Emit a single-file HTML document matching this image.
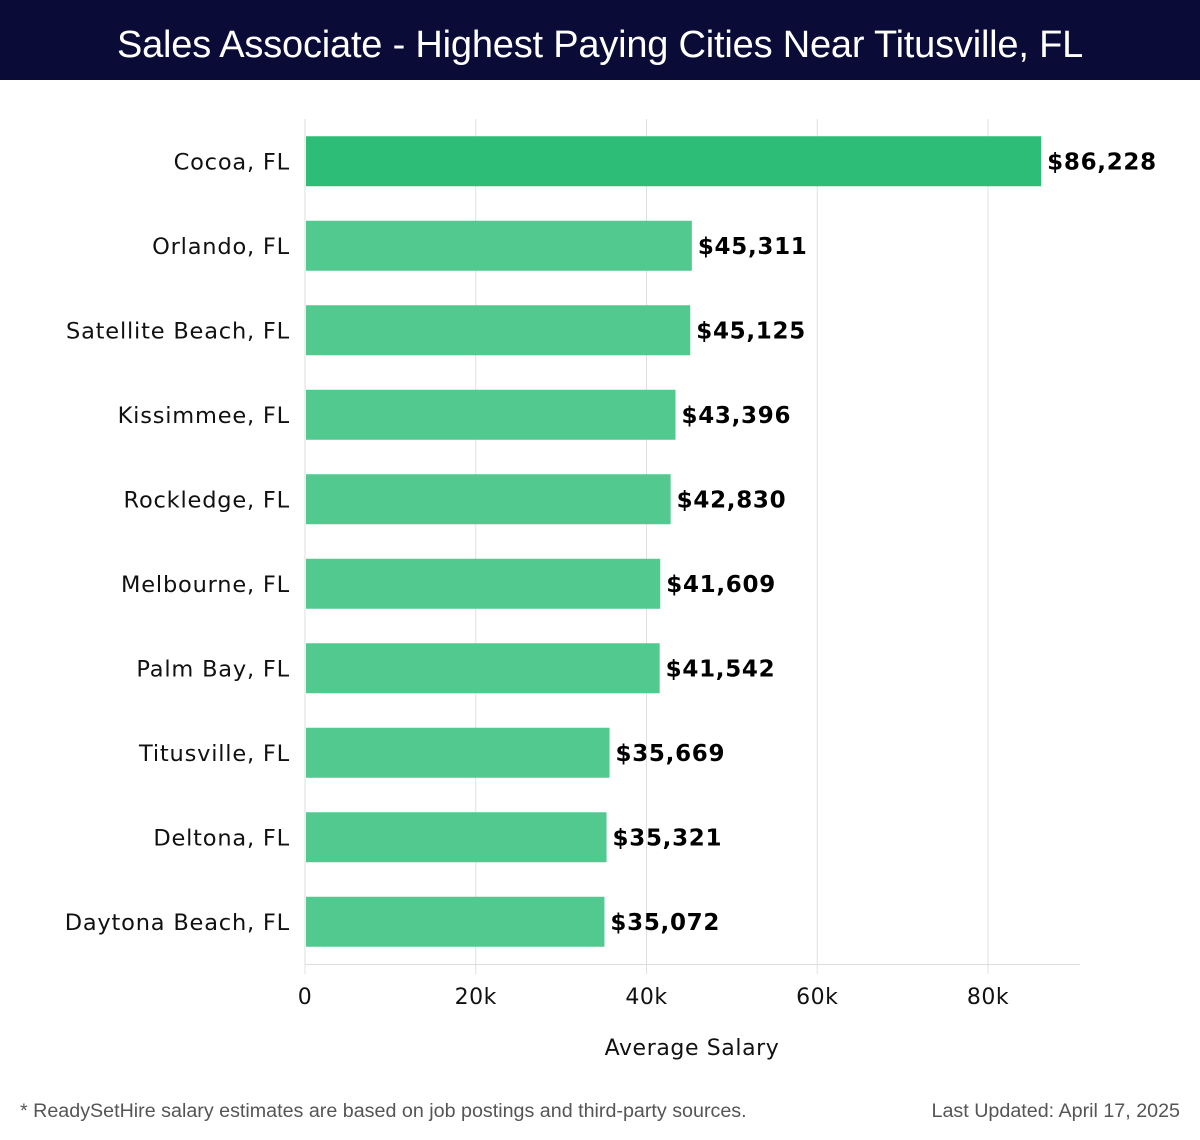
<!DOCTYPE html>
<html><head><meta charset="utf-8"><style>
body{margin:0;width:1200px;height:1140px;background:#fff;overflow:hidden;font-family:"DejaVu Sans","Liberation Sans",sans-serif}
#hdr{position:absolute;left:0;top:0;width:1200px;height:80px;background:#0b0b38;color:#fff;font-family:"Liberation Sans",sans-serif;font-size:38px;text-align:center;line-height:90px;letter-spacing:-0.2px}
.ft{position:absolute;top:1100px;font-family:"Liberation Sans",sans-serif;font-size:19.7px;color:#555}
</style></head><body>
<div id="hdr">Sales Associate - Highest Paying Cities Near Titusville, FL</div>
<svg id="chart" width="1200" height="1140" style="position:absolute;left:0;top:0"></svg>
<div class="ft" style="left:20px">* ReadySetHire salary estimates are based on job postings and third-party sources.</div>
<div class="ft" style="right:20px">Last Updated: April 17, 2025</div>
<script>
const cities=["Cocoa, FL","Orlando, FL","Satellite Beach, FL","Kissimmee, FL","Rockledge, FL","Melbourne, FL","Palm Bay, FL","Titusville, FL","Deltona, FL","Daytona Beach, FL"];
const salaries=[86228,45311,45125,43396,42830,41609,41542,35669,35321,35072];
const ticks=[0,20000,40000,60000,80000];
const tickLabels=["0","20k","40k","60k","80k"];
const NS="http://www.w3.org/2000/svg";
const svg=document.getElementById('chart');
const x0=305,kpx=(988-305)/80000,top0=119,band=84.5,bh=50;
const X=v=>x0+v*kpx;
const Y=i=>top0+i*band+band/2;
function mk(t,a){const e=document.createElementNS(NS,t);for(const k in a)e.setAttribute(k,a[k]);svg.appendChild(e);return e;}
ticks.forEach((t,i)=>{
 const g=mk('line',{x1:X(t),x2:X(t),y1:top0,y2:974,stroke:'#e0e0e0','stroke-width':1});
 
 
 const l=mk('text',{x:X(t),y:1004,'text-anchor':'middle','font-size':22,fill:'#111','letter-spacing':0.5});
 l.textContent=tickLabels[i];
 
 
});
const ax=mk('line',{x1:x0,x2:1080,y1:964.5,y2:964.5,stroke:'#ddd','stroke-width':1});


const ay=mk('line',{x1:x0,x2:x0,y1:top0,y2:964,stroke:'#ddd','stroke-width':1});


cities.forEach((c,i)=>{
 const cy=Y(i);
 const r=mk('rect',{x:x0+1,y:cy-bh/2,width:X(salaries[i])-x0-1,height:bh,fill:i===0?'#2dbd77':'#52c98f'});
 
 
 const l=mk('text',{x:290,y:cy+8,'text-anchor':'end','font-size':22.5,fill:'#111','letter-spacing':0.8});
 l.textContent=c;
 
 
 const v=mk('text',{x:X(salaries[i])+6,y:cy+8,'font-size':23,'font-weight':'bold',fill:'#000','letter-spacing':0.7});
 v.textContent='$'+salaries[i].toLocaleString('en-US');
 
 
});
const xt=mk('text',{x:692,y:1055,'text-anchor':'middle','font-size':22,fill:'#111','letter-spacing':0.6});
xt.textContent='Average Salary';


</script>
</body></html>
